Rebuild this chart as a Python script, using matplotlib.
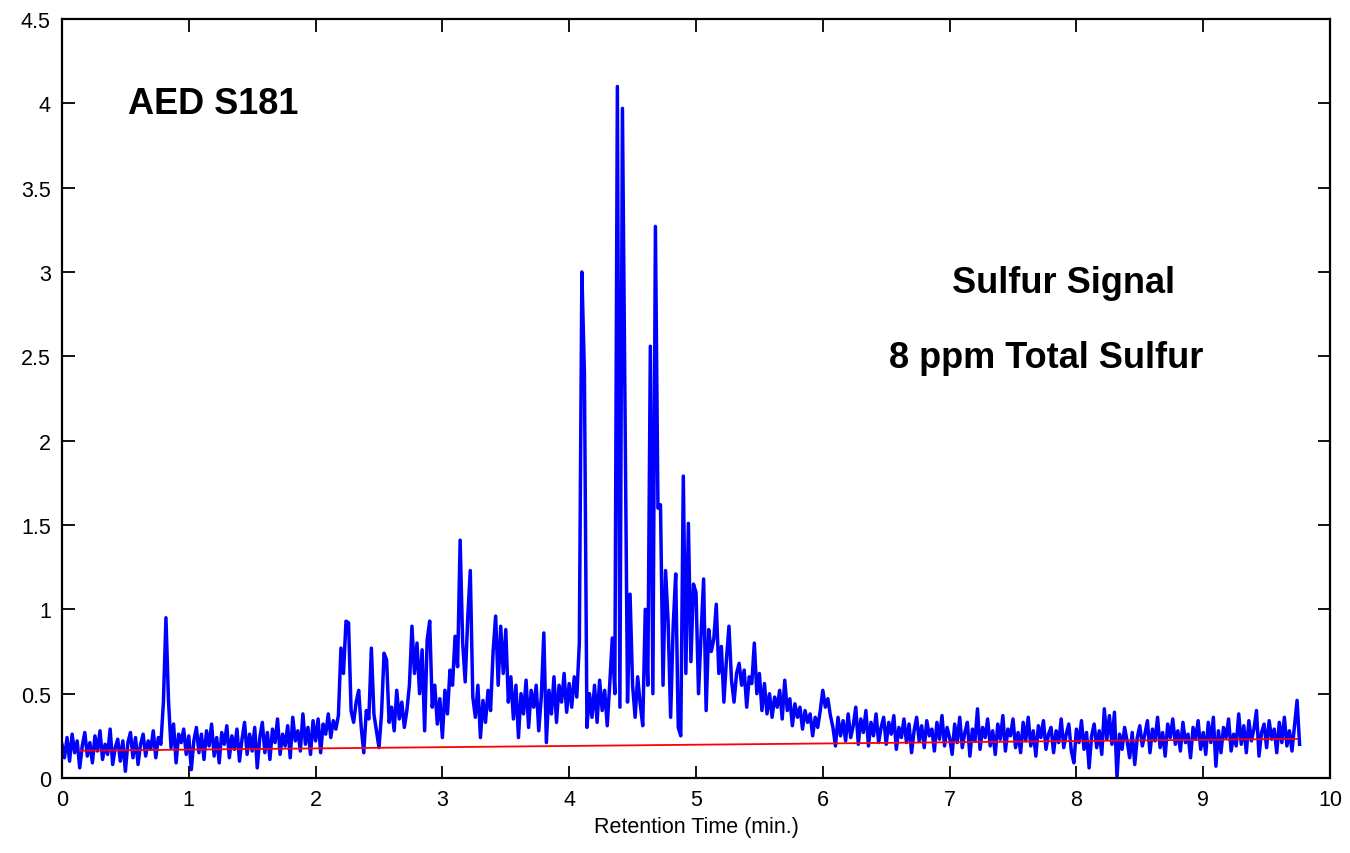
#! /usr/bin/env python
# -*- coding: utf-8 -*-

"""
  AED S181 sulfur channel chromatogram (8 ppm total sulfur)
  Trace values read off the detector plot, one row per half minute.
"""

import numpy as np
import matplotlib
matplotlib.use("Agg")
import matplotlib.pyplot as plt
import matplotlib.ticker as mticker

# detector sampling interval (min)
sample_step = 0.02

# sulfur signal, 25 samples per half minute starting at t = 0
sulfur_signal = [
    0.20, 0.12, 0.24, 0.10, 0.26, 0.15, 0.22, 0.06, 0.19, 0.27, 0.13, 0.21, 0.09, 0.25, 0.16, 0.28, 0.11, 0.20, 0.14, 0.29, 0.08, 0.18, 0.23, 0.10, 0.22,
    0.04, 0.21, 0.27, 0.12, 0.24, 0.08, 0.20, 0.26, 0.13, 0.22, 0.17, 0.28, 0.12, 0.24, 0.20, 0.45, 0.95, 0.46, 0.18, 0.32, 0.09, 0.26, 0.21, 0.29, 0.14,
    0.25, 0.05, 0.22, 0.30, 0.15, 0.26, 0.11, 0.28, 0.19, 0.32, 0.13, 0.24, 0.09, 0.27, 0.20, 0.31, 0.12, 0.25, 0.17, 0.29, 0.10, 0.23, 0.33, 0.14, 0.26,
    0.16, 0.30, 0.06, 0.24, 0.33, 0.15, 0.27, 0.11, 0.29, 0.21, 0.35, 0.14, 0.26, 0.19, 0.31, 0.12, 0.36, 0.22, 0.28, 0.16, 0.38, 0.20, 0.30, 0.14, 0.34,
    0.22, 0.35, 0.15, 0.32, 0.26, 0.38, 0.24, 0.34, 0.29, 0.37, 0.77, 0.62, 0.93, 0.92, 0.40, 0.33, 0.45, 0.52, 0.30, 0.15, 0.40, 0.35, 0.77, 0.38, 0.28,
    0.18, 0.38, 0.74, 0.70, 0.33, 0.42, 0.28, 0.52, 0.35, 0.45, 0.30, 0.40, 0.55, 0.90, 0.62, 0.80, 0.50, 0.76, 0.28, 0.82, 0.93, 0.42, 0.55, 0.32, 0.47,
    0.24, 0.52, 0.38, 0.64, 0.55, 0.84, 0.66, 1.41, 0.80, 0.57, 0.95, 1.23, 0.48, 0.36, 0.55, 0.24, 0.46, 0.33, 0.52, 0.40, 0.75, 0.96, 0.55, 0.90, 0.62,
    0.88, 0.45, 0.60, 0.35, 0.55, 0.24, 0.50, 0.38, 0.58, 0.30, 0.52, 0.42, 0.55, 0.28, 0.48, 0.86, 0.21, 0.52, 0.38, 0.60, 0.33, 0.55, 0.45, 0.62, 0.39,
    0.56, 0.42, 0.60, 0.48, 0.80, 3.00, 2.40, 0.30, 0.50, 0.36, 0.55, 0.33, 0.58, 0.40, 0.52, 0.31, 0.56, 0.83, 0.50, 4.10, 0.42, 3.97, 2.20, 0.45, 1.09,
    0.55, 0.36, 0.60, 0.44, 0.31, 1.00, 0.55, 2.56, 0.50, 3.27, 1.60, 1.62, 0.55, 1.23, 0.93, 0.36, 0.90, 1.21, 0.30, 0.25, 1.79, 0.62, 1.51, 0.69, 1.15,
    1.10, 0.50, 0.85, 1.18, 0.40, 0.88, 0.75, 0.82, 1.03, 0.62, 0.78, 0.45, 0.70, 0.90, 0.58, 0.45, 0.62, 0.68, 0.55, 0.64, 0.42, 0.60, 0.56, 0.80, 0.50,
    0.62, 0.40, 0.56, 0.38, 0.50, 0.36, 0.48, 0.42, 0.52, 0.35, 0.58, 0.40, 0.47, 0.31, 0.44, 0.36, 0.42, 0.29, 0.40, 0.33, 0.38, 0.25, 0.36, 0.30, 0.40,
    0.52, 0.42, 0.47, 0.37, 0.30, 0.19, 0.36, 0.25, 0.34, 0.22, 0.38, 0.24, 0.31, 0.42, 0.20, 0.35, 0.27, 0.40, 0.19, 0.33, 0.25, 0.38, 0.21, 0.30, 0.36,
    0.20, 0.33, 0.26, 0.37, 0.17, 0.30, 0.24, 0.35, 0.21, 0.32, 0.15, 0.28, 0.36, 0.22, 0.31, 0.18, 0.34, 0.25, 0.29, 0.16, 0.33, 0.23, 0.37, 0.19, 0.30,
    0.24, 0.14, 0.32, 0.21, 0.36, 0.18, 0.27, 0.33, 0.13, 0.29, 0.22, 0.41, 0.17, 0.30, 0.24, 0.35, 0.19, 0.28, 0.14, 0.32, 0.23, 0.37, 0.16, 0.29, 0.25,
    0.35, 0.18, 0.27, 0.15, 0.33, 0.22, 0.36, 0.19, 0.28, 0.13, 0.31, 0.24, 0.34, 0.17, 0.26, 0.30, 0.15, 0.28, 0.21, 0.35, 0.18, 0.26, 0.32, 0.16, 0.09,
    0.29, 0.21, 0.34, 0.17, 0.27, 0.06, 0.25, 0.32, 0.18, 0.28, 0.14, 0.41, 0.23, 0.37, 0.20, 0.39, 0.00, 0.26, 0.17, 0.30, 0.22, 0.12, 0.27, 0.08, 0.24,
    0.31, 0.19, 0.26, 0.34, 0.15, 0.29, 0.22, 0.36, 0.18, 0.27, 0.13, 0.32, 0.24, 0.35, 0.20, 0.28, 0.16, 0.33, 0.21, 0.26, 0.12, 0.30, 0.23, 0.34, 0.17,
    0.27, 0.14, 0.33, 0.21, 0.36, 0.07, 0.28, 0.15, 0.30, 0.24, 0.35, 0.16, 0.26, 0.19, 0.38, 0.20, 0.31, 0.15, 0.34, 0.22, 0.29, 0.40, 0.13, 0.27, 0.32,
    0.18, 0.34, 0.23, 0.29, 0.15, 0.33, 0.21, 0.36, 0.19, 0.28, 0.16, 0.31, 0.46, 0.20,
]

# integration baseline (red line), end points
baseline_time = [0.14, 9.74]
baseline_signal = [0.162, 0.232]

x_ticks = [0, 1, 2, 3, 4, 5, 6, 7, 8, 9, 10]
y_ticks = [0, 0.5, 1, 1.5, 2, 2.5, 3, 3.5, 4, 4.5]

# annotations: (text, x, y, ha)
labels = [("AED S181", 0.52, 3.94, "left"),
          ("Sulfur Signal", 7.90, 2.88, "center"),
          ("8 ppm Total Sulfur", 7.76, 2.434, "center")]


def main():
    plt.rcParams['font.family'] = ['Liberation Sans', 'DejaVu Sans']

    signal = np.array(sulfur_signal)
    time = np.arange(len(signal)) * sample_step

    fig = plt.figure(figsize=(13.5, 8.54), dpi=100)
    ax = fig.add_axes([0.0459, 0.0878, 0.9393, 0.8888])

    # thick trace so the noisy baseline reads as a band, like the original
    ax.plot(time, signal, color='blue', linewidth=2.5)
    ax.plot(baseline_time, baseline_signal, color='red', linewidth=1.3)

    for text, x, y, ha in labels:
        ax.text(x, y, text, fontsize=26, fontweight='bold', ha=ha, va='baseline')

    ax.set_xlim(0, 10)
    ax.set_ylim(0, 4.5)
    ax.set_xticks(x_ticks)
    ax.set_yticks(y_ticks)
    ax.yaxis.set_major_formatter(mticker.FormatStrFormatter('%g'))
    ax.tick_params(direction='in', length=9, width=1.3, labelsize=15.5,
                   top=True, right=True, pad=8)
    for spine in ax.spines.values():
        spine.set_linewidth(1.6)

    ax.set_xlabel('Retention Time (min.)', fontsize=15.5, labelpad=4)

    fig.savefig('out.png', dpi=100)


# Call the main program
if __name__ == "__main__":
    main()
